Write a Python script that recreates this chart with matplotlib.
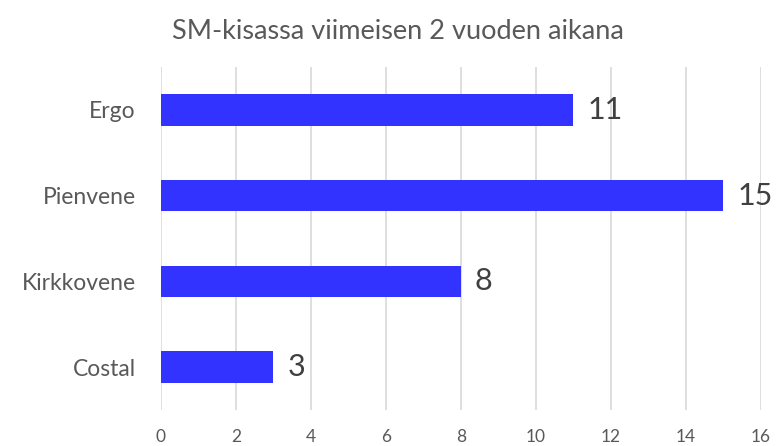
import matplotlib
matplotlib.use("Agg")
import matplotlib.pyplot as plt

categories = ["Ergo", "Pienvene", "Kirkkovene", "Costal"]
values = [11, 15, 8, 3]
x_ticks = [0, 2, 4, 6, 8, 10, 12, 14, 16]
title = "SM-kisassa viimeisen 2 vuoden aikana"

plt.rcParams["font.family"] = ["Lato", "DejaVu Sans"]

fig = plt.figure(figsize=(7.77, 4.46), dpi=100)
ax = fig.add_axes([0.2072, 0.0807, 0.7722, 0.7691])

pos = list(range(len(categories)))
ax.barh(pos, values, height=0.37, color="#3333FF", zorder=3)
for p, v in zip(pos, values):
    ax.text(v + 0.37, p, str(v), va="center", ha="left", fontsize=22, color="#404040")

ax.set_yticks(pos)
ax.set_yticklabels(categories, fontsize=16.5, color="#595959")
ax.set_ylim(len(categories) - 0.5, -0.5)
ax.set_xlim(0, 16)
ax.set_xticks(x_ticks)
ax.set_xticklabels([str(t) for t in x_ticks], fontsize=12.5, color="#595959")
ax.tick_params(axis="both", length=0)
ax.tick_params(axis="x", pad=14)
ax.tick_params(axis="y", pad=18)
ax.grid(axis="x", color="#D9D9D9", linewidth=1.2, zorder=0)
for s in ax.spines.values():
    s.set_visible(False)

fig.text(0.512, 0.93, title, ha="center", va="center", fontsize=19.5, color="#595959")

fig.savefig("out.png", dpi=100)
